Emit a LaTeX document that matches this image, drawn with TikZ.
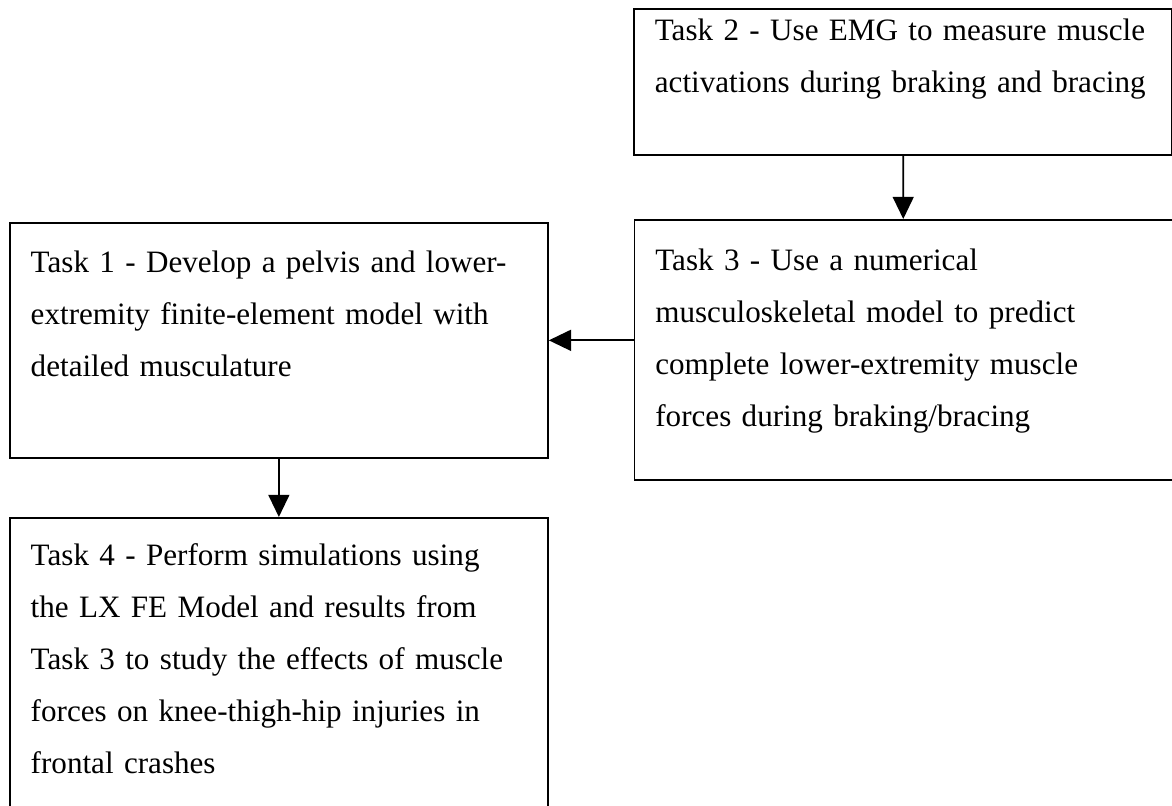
\documentclass[tikz,border=0pt]{standalone}
\usepackage{fontspec}
\setmainfont{Liberation Serif}
\usetikzlibrary{arrows.meta}

\tikzset{
  taskbox/.style={draw, line width=0.7pt, anchor=north west, text width=201pt,
    align=left, inner xsep=8.5pt, inner ysep=0pt,
    font=\fontsize{12.6}{21}\selectfont},
  flow/.style={line width=0.7pt, -{Triangle[length=9pt,width=8.5pt]}}
}

\begin{document}
\begin{tikzpicture}[x=1pt, y=1pt]
\useasboundingbox (0,0) rectangle (474.7,-326.4);
\clip (0,0) rectangle (474.7,-326.4);
% task boxes, text hangs from the top edge (text height = first baseline)
\node[taskbox, text height=13pt, text depth=46.2pt] (task2) at (256.4,-3.2)
  {Task 2 - Use EMG to measure muscle\\activations during braking and bracing};
\node[taskbox, text height=20.7pt, text depth=84.6pt] (task3) at (256.6,-88.7)
  {Task 3 - Use a numerical\\musculoskeletal model to predict\\complete lower-extremity muscle\\forces during braking/bracing};
\node[taskbox, text height=20.3pt, text depth=74.9pt] (task1) at (3.6,-89.9)
  {Task 1 - Develop a pelvis and lower-\\extremity finite-element model with\\detailed musculature};
\node[taskbox, text height=19.4pt, text depth=110pt] (task4) at (3.6,-209.4)
  {Task 4 - Perform simulations using\\the LX FE Model and results from\\Task 3 to study the effects of muscle\\forces on knee-thigh-hip injuries in\\frontal crashes};
% arrows
\draw[flow] (task2) -- (task3);
\draw[flow] (task3.west |- task1.east) -- (task1.east);
\draw[flow] (task1) -- (task1.south |- task4.north);
\end{tikzpicture}
\end{document}
